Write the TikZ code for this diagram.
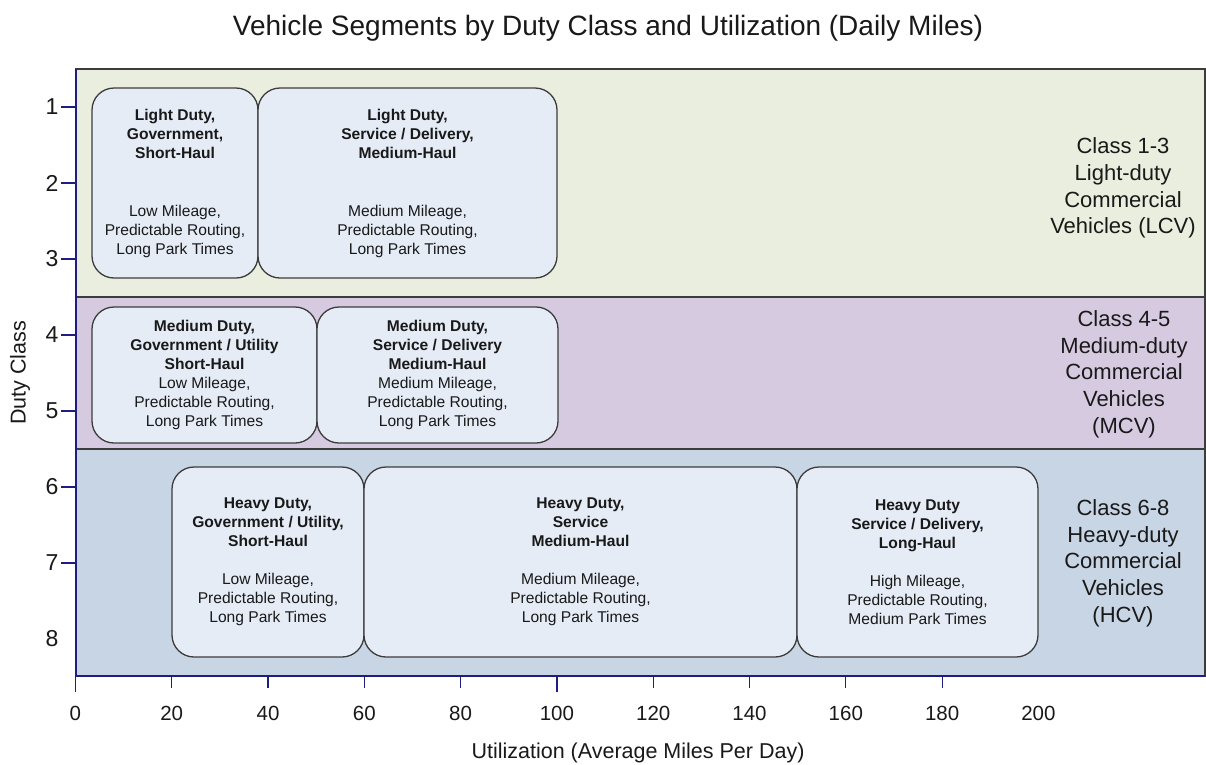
\documentclass[tikz,border=0pt]{standalone}
\usepackage{fontspec}
\setmainfont{Liberation Sans}
\definecolor{bandG}{RGB}{234,238,222}
\definecolor{bandP}{RGB}{214,202,225}
\definecolor{bandB}{RGB}{200,213,228}
\definecolor{boxfill}{RGB}{230,236,246}
\definecolor{edge}{RGB}{60,60,60}
\definecolor{axisblue}{RGB}{30,30,130}
\definecolor{ink}{RGB}{25,25,25}
\begin{document}
\begin{tikzpicture}[x=1pt,y=-1pt,
  band/.style={draw=edge,line width=1.6pt},
  segbox/.style={draw=edge,fill=boxfill,line width=1.3pt,rounded corners=22pt,
    align=center,text=ink,inner sep=0pt,font=\fontsize{15.6}{19}\selectfont},
  classlbl/.style={align=center,text=ink,font=\fontsize{22}{26.7}\selectfont},
  ticklbl/.style={text=ink,font=\fontsize{23}{27}\selectfont},
  xlbl/.style={text=ink,anchor=base,font=\fontsize{20.5}{24}\selectfont},
  axtitle/.style={text=ink,font=\fontsize{21.5}{26}\selectfont},
  axisline/.style={draw=axisblue,line width=1.6pt},
  tickmark/.style={draw=axisblue,line width=1.2pt}]
\useasboundingbox (0,0) rectangle (1206,764);
\fill[white] (0,0) rectangle (1206,764);

% title
\node[anchor=base,text=ink,font=\fontsize{28}{33}\selectfont] (title) at (608,35)
  {Vehicle Segments by Duty Class and Utilization (Daily Miles)};

% duty-class bands
\draw[band,fill=bandG] (76,69) rectangle (1205,297);
\draw[band,fill=bandP] (76,297) rectangle (1205,449);
\draw[band,fill=bandB] (76,449) rectangle (1205,676);

% axes
\draw[axisline] (76,69) -- (76,676);
\draw[axisline] (76,676) -- (1205,676);

% y ticks and labels (1 ... 8)
\foreach \v in {1,...,7}{
  \draw[tickmark] (61,{107+76*(\v-1)}) -- (76,{107+76*(\v-1)});
}
\foreach \v in {1,...,8}{
  \node[ticklbl] (ylab\v) at (52,{107+76*(\v-1)}) {\v};
}
\node[axtitle,rotate=90] (ytitle) at (20,373) {Duty Class};

% x ticks and labels (0 ... 200)
\foreach \m in {0,20,...,180}{
  \draw[tickmark] ({75.4+4.815*\m},676) -- ({75.4+4.815*\m},688);
}
\draw[tickmark] (75.4,688) -- (75.4,692);
\draw[tickmark] (556.9,688) -- (556.9,692);
\foreach \m in {0,20,...,200}{
  \node[xlbl] (xlab\m) at ({75.4+4.815*\m},720) {\m};
}
\node[axtitle,anchor=base] (xtitle) at (638,758) {Utilization (Average Miles Per Day)};

% light-duty segments
\node[segbox,minimum width=166pt,minimum height=190pt] (lgov) at (175,183)
  {\textbf{Light Duty,}\\\textbf{Government,}\\\textbf{Short-Haul}\\[39pt]
   Low Mileage,\\Predictable Routing,\\Long Park Times};
\node[segbox,minimum width=299pt,minimum height=190pt] (lsvc) at (407.5,183)
  {\textbf{Light Duty,}\\\textbf{Service / Delivery,}\\\textbf{Medium-Haul}\\[39pt]
   Medium Mileage,\\Predictable Routing,\\Long Park Times};

% medium-duty segments
\node[segbox,minimum width=225pt,minimum height=136pt] (mgov) at (204.5,375)
  {\textbf{Medium Duty,}\\\textbf{Government / Utility}\\\textbf{Short-Haul}\\
   Low Mileage,\\Predictable Routing,\\Long Park Times};
\node[segbox,minimum width=241pt,minimum height=136pt] (msvc) at (437.5,375)
  {\textbf{Medium Duty,}\\\textbf{Service / Delivery}\\\textbf{Medium-Haul}\\
   Medium Mileage,\\Predictable Routing,\\Long Park Times};

% heavy-duty segments
\node[segbox,minimum width=192pt,minimum height=190pt] (hgov) at (268,562)
  {\textbf{Heavy Duty,}\\\textbf{Government / Utility,}\\\textbf{Short-Haul}\\[19pt]
   Low Mileage,\\Predictable Routing,\\Long Park Times};
\node[segbox,minimum width=433pt,minimum height=190pt] (hsvc) at (580.5,562)
  {\textbf{Heavy Duty,}\\\textbf{Service}\\\textbf{Medium-Haul}\\[19pt]
   Medium Mileage,\\Predictable Routing,\\Long Park Times};
\node[segbox,minimum width=241pt,minimum height=190pt] (hlong) at (917.5,562)
  {\textbf{Heavy Duty}\\\textbf{Service / Delivery,}\\\textbf{Long-Haul}\\[19pt]
   High Mileage,\\Predictable Routing,\\Medium Park Times};

% class labels
\node[classlbl] (lcv) at (1123,188)
  {Class 1-3\\Light-duty\\Commercial\\Vehicles (LCV)};
\node[classlbl] (mcv) at (1124,374)
  {Class 4-5\\Medium-duty\\Commercial\\Vehicles\\(MCV)};
\node[classlbl] (hcv) at (1123,563)
  {Class 6-8\\Heavy-duty\\Commercial\\Vehicles\\(HCV)};
\end{tikzpicture}
\end{document}
